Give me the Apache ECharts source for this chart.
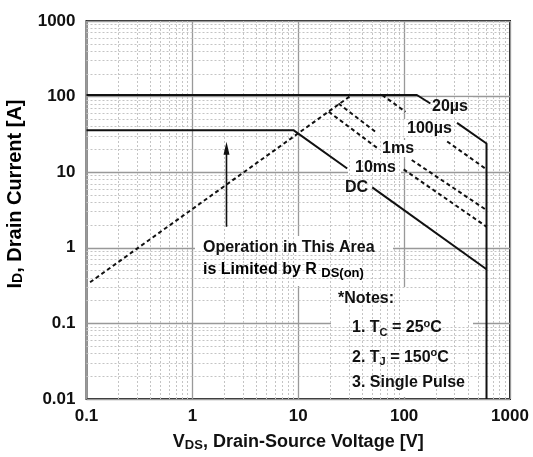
<!DOCTYPE html>
<html>
<head>
<meta charset="utf-8">
<script src="https://cdn.jsdelivr.net/npm/echarts@6/dist/echarts.min.js"></script>
<style>
  html, body { margin: 0; padding: 0; background: #fff; }
  #chart { width: 533px; height: 457px; }
</style>
</head>
<body>
<div id="chart"></div>
<script>
const xTickLabels = ["0.1", "1", "10", "100", "1000"];
const yTickLabels = ["0.01", "0.1", "1", "10", "100", "1000"];
const minorSteps = [2, 3, 4, 5, 6, 7, 8, 9];
const xDecades = [0.1, 1, 10, 100];
const yDecades = [0.01, 0.1, 1, 10, 100];

// [VDS, ID] points, split where a label sits on the curve
const rdsLimit = [[0.108, 0.35], [32, 105]];
const us20Left = [[0.1, 105], [132, 105], [177, 81]];
const us20Right = [[316, 45], [600, 24], [600, 0.01]];
const us100Left = [[62, 105], [103, 63]];
const us100Right = [[255, 25.5], [600, 10.9]];
const ms1Left = [[24, 81], [55.5, 33]];
const ms1Right = [[118, 14.5], [600, 3.15]];
const ms10Left = [[19.4, 63], [55.5, 21]];
const ms10Right = [[99, 10.9], [600, 1.9]];
const dcLeft = [[0.1, 36], [9, 36], [29, 11.2]];
const dcRight = [[50, 6.3], [600, 0.52]];
const arrowLine = [[2.1, 1.9], [2.1, 19]];

const FONT = '"Liberation Sans", Arial, sans-serif';
const ink = "#111";

function curve(data, dashed) {
  return {
    type: "line",
    data: data,
    symbol: "none",
    silent: true,
    z: 5,
    lineStyle: { color: ink, width: 2, type: dashed ? [4, 3] : "solid" }
  };
}

var minorLines = [];
xDecades.forEach(d => minorSteps.forEach(m => minorLines.push({ xAxis: d * m })));
yDecades.forEach(d => minorSteps.forEach(m => minorLines.push({ yAxis: d * m })));

function rich(size) {
  return {
    m: { fontFamily: FONT, fontWeight: "bold", fontSize: size, lineHeight: 20, color: ink },
    s: { fontFamily: FONT, fontWeight: "bold", fontSize: Math.round(size * 0.7), lineHeight: 10, verticalAlign: "bottom", color: ink },
    p: { fontFamily: FONT, fontWeight: "bold", fontSize: Math.round(size * 0.7), lineHeight: 12, verticalAlign: "top", color: ink }
  };
}

function note(x, y, text, size, extra) {
  return Object.assign({
    type: "text",
    x: x,
    y: y,
    z: 6,
    silent: true,
    style: {
      text: text,
      rich: rich(size || 16),
      font: "bold " + (size || 16) + "px " + FONT,
      fill: ink,
      align: "left",
      textAlign: "left",
      verticalAlign: "middle",
      textVerticalAlign: "middle"
    }
  }, extra || {});
}

function blank(x, y, w, h) {
  return { type: "rect", z: 3, silent: true, shape: { x: x, y: y, width: w, height: h }, style: { fill: "#fff" } };
}

var chart = echarts.init(document.getElementById("chart"));
var option = {
  animation: false,
  grid: {
    left: 86.5, right: 23, top: 21, bottom: 52,
    show: true, borderColor: "#222", borderWidth: 2, backgroundColor: "#fff"
  },
  xAxis: {
    type: "log", logBase: 10, min: 0.1, max: 1000,
    axisLine: { show: false },
    axisTick: { show: false },
    axisLabel: {
      margin: 9, color: ink, fontSize: 17, fontWeight: "bold", fontFamily: FONT,
      showMinLabel: true, showMaxLabel: true,
      formatter: v => xTickLabels[Math.round(Math.log10(v) + 1)]
    },
    splitLine: { show: true, lineStyle: { color: "#999", width: 1.3 } },
    name: "{m|V}{s|DS}{m|, Drain-Source Voltage [V]}",
    nameLocation: "middle",
    nameGap: 33,
    nameTextStyle: { rich: rich(18) }
  },
  yAxis: {
    type: "log", logBase: 10, min: 0.01, max: 1000,
    axisLine: { show: false },
    axisTick: { show: false },
    axisLabel: {
      margin: 11, color: ink, fontSize: 17, fontWeight: "bold", fontFamily: FONT,
      showMinLabel: true, showMaxLabel: true,
      formatter: v => yTickLabels[Math.round(Math.log10(v) + 2)]
    },
    splitLine: { show: true, lineStyle: { color: "#999", width: 1.3 } }
  },
  graphic: [
    blank(195, 236, 198, 50),
    blank(331, 287, 142, 110),
    blank(416, 97.5, 57, 19),
    blank(404, 119, 50, 19),
    blank(379, 140, 35, 17),
    blank(348, 158, 53, 19),
    blank(343, 179, 28, 19),
    note(203, 248, "{m|Operation in This Area}"),
    note(203, 270, "", 16, { style: { text: "{m|is Limited by R }{q|DS(on)}", rich: Object.assign(rich(16), { q: { fontFamily: FONT, fontWeight: "bold", fontSize: 13, lineHeight: 10, verticalAlign: "bottom", color: ink } }), verticalAlign: "middle", textVerticalAlign: "middle" } }),
    note(338, 299, "{m|*Notes:}"),
    note(352, 328, "{m|1. T}{s|C}{m| = 25}{p|o}{m|C}"),
    note(352, 357.5, "{m|2. T}{s|J}{m| = 150}{p|o}{m|C}"),
    note(352, 382.5, "{m|3. Single Pulse}"),
    note(432, 107, "{m|20µs}"),
    note(407, 128.5, "{m|100µs}"),
    note(382, 148.5, "{m|1ms}"),
    note(355, 167.5, "{m|10ms}"),
    note(345, 188, "{m|DC}"),
    note(15, 194, "", 20, {
      rotation: Math.PI / 2,
      style: {
        text: "{m|I}{s|D}{m|, Drain Current [A]}", rich: rich(20),
        align: "center", textAlign: "center", verticalAlign: "middle", textVerticalAlign: "middle"
      }
    })
  ],
  series: [
    {
      type: "line", data: [[1, 1]], symbol: "none", silent: true, z: 1,
      lineStyle: { width: 0 },
      markLine: {
        silent: true, symbol: "none", animation: false,
        label: { show: false },
        lineStyle: { color: "#c4c4c4", width: 1, type: [2, 2] },
        data: minorLines
      }
    },
    curve(rdsLimit, true),
    curve(us20Left, false),
    curve(us20Right, false),
    curve(us100Left, true),
    curve(us100Right, true),
    curve(ms1Left, true),
    curve(ms1Right, true),
    curve(ms10Left, true),
    curve(ms10Right, true),
    curve(dcLeft, false),
    curve(dcRight, false),
    {
      type: "line", silent: true, z: 5,
      data: [
        { value: arrowLine[0], symbol: "none" },
        { value: arrowLine[1], symbol: "triangle", symbolSize: [6, 13], symbolOffset: [0, -3] }
      ],
      showSymbol: true,
      itemStyle: { color: ink },
      lineStyle: { color: ink, width: 1.6 }
    }
  ]
};
chart.setOption(option);
</script>
</body>
</html>
